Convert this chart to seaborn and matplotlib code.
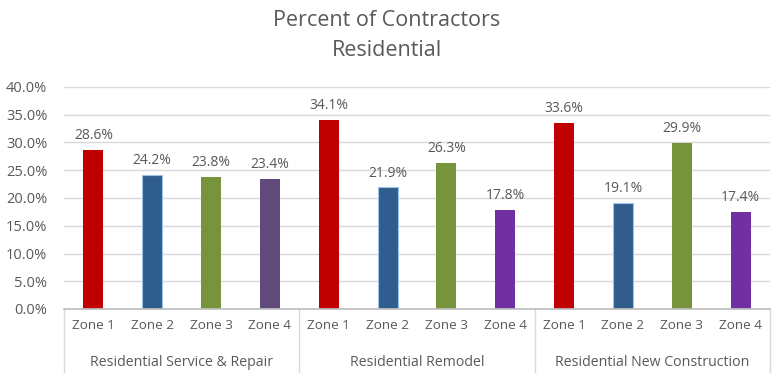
import matplotlib
matplotlib.use("Agg")
import matplotlib.pyplot as plt
import seaborn as sns
import pandas as pd
from matplotlib.lines import Line2D

groups = ["Residential Service & Repair", "Residential Remodel", "Residential New Construction"]
zones = ["Zone 1", "Zone 2", "Zone 3", "Zone 4"]
service_repair = [28.6, 24.2, 23.8, 23.4]
remodel = [34.1, 21.9, 26.3, 17.8]
new_construction = [33.6, 19.1, 29.9, 17.4]
y_ticks = [0, 5, 10, 15, 20, 25, 30, 35, 40]

colors = ["#C00000", "#2F5D8E", "#77933C", "#604A7B",
          "#C00000", "#2F5D8E", "#77933C", "#7030A0",
          "#C00000", "#2F5D8E", "#77933C", "#7030A0"]

rows = []
for g, vals in zip(groups, [service_repair, remodel, new_construction]):
    for z, v in zip(zones, vals):
        rows.append({"group": g, "zone": z, "value": v})
df = pd.DataFrame(rows)
df["pos"] = [f"{i:02d}" for i in range(len(df))]

sns.set_theme(style="white")
plt.rcParams["font.family"] = ["Open Sans", "DejaVu Sans"]

fig = plt.figure(figsize=(7.73, 3.80), dpi=100)
ax = fig.add_axes([64/773, 1-309/380, (770-64)/773, (309-87)/380])

sns.barplot(data=df, x="pos", y="value", hue="pos", palette=colors,
            width=0.34, dodge=False, legend=False, ax=ax, saturation=1)

# blue bars light outline
for i, p in enumerate(ax.patches):
    if i % 4 == 1:
        p.set_edgecolor("#9DC3E6")
        p.set_linewidth(0.8)
    else:
        p.set_linewidth(0)

ax.set_ylim(0, 40)
ax.set_xlim(-0.5, len(df) - 0.5)
ax.set_yticks(y_ticks)
ax.set_yticklabels([f"{t:.1f}%" for t in y_ticks], color="#595959", fontsize=10.5)
ax.yaxis.grid(True, color="#D9D9D9", linewidth=1)
ax.set_axisbelow(True)
ax.set_xlabel("")
ax.set_ylabel("")
for s in ["left", "right", "top"]:
    ax.spines[s].set_visible(False)
ax.spines["bottom"].set_color("#BFBFBF")
ax.tick_params(axis="y", length=0, pad=12)
ax.tick_params(axis="x", length=0, pad=7)
ax.set_xticks(range(len(df)))
ax.set_xticklabels(df["zone"], color="#595959", fontsize=9.7)

# data labels
for i, v in enumerate(df["value"]):
    ax.annotate(f"{v:.1f}%", (i, v), xytext=(0, 5), textcoords="offset points",
                ha="center", va="bottom", fontsize=10, color="#595959")

# group labels & separators
trans = ax.get_xaxis_transform()
for k, g in enumerate(groups):
    ax.text(4 * k + 1.5, -0.24, g, transform=trans, ha="center", va="center",
            fontsize=10.2, color="#595959")
for xb in [-0.5, 3.5, 7.5, 11.5]:
    ax.add_line(Line2D([xb, xb], [0, -0.285], transform=trans, color="#D9D9D9",
                       linewidth=1, clip_on=False))

fig.text(0.5, 1 - 21/380, "Percent of Contractors", ha="center", va="center",
         fontsize=15.5, color="#595959")
fig.text(0.5, 1 - 50/380, "Residential", ha="center", va="center",
         fontsize=15.5, color="#595959")

fig.savefig("out.png", dpi=100, facecolor="white")
